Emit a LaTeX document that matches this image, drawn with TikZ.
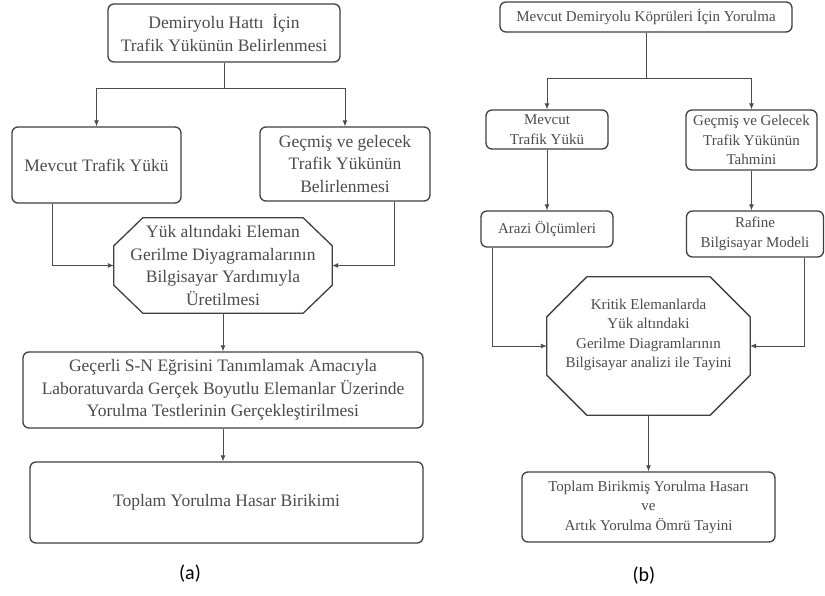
\documentclass[tikz,border=0pt]{standalone}
\usepackage{fontspec}
\setmainfont{Liberation Serif}
\newfontfamily\kutufont{Liberation Serif}
\newfontfamily\capfont{Carlito}
\usetikzlibrary{arrows.meta}

\begin{document}
\begin{tikzpicture}[x=1pt,y=-1pt,
  kutu/.style={draw=black!75,line width=1.3pt,rounded corners=6pt,align=center,text=black!70,inner sep=2pt},
  buyuk/.style={font=\kutufont\fontsize{17.5}{22.5}\selectfont},
  kucuk/.style={font=\kutufont\fontsize{15}{19.5}\selectfont},
  sekiz/.style={align=center,text=black!70,inner sep=0pt},
  cerceve/.style={draw=black!75,line width=1.3pt,line join=round},
  ok/.style={draw=black!70,line width=0.9pt,-{Latex[length=6pt,width=5pt]}},
  altyazi/.style={font=\capfont\fontsize{20}{24}\selectfont}]
\fill[white] (0,0) rectangle (825,595);

% (a)
\node[kutu,buyuk,minimum width=232pt,minimum height=58pt] (a1) at (224,33) {Demiryolu Hattı~~İçin\\Trafik Yükünün Belirlenmesi};
\node[kutu,buyuk,minimum width=169pt,minimum height=76pt] (a2) at (96.5,165) {Mevcut Trafik Yükü};
\node[kutu,buyuk,minimum width=170pt,minimum height=74pt] (a3) at (345,164) {Geçmiş ve gelecek\\Trafik Yükünün\\Belirlenmesi};
\node[sekiz,buyuk,minimum width=218pt,minimum height=95pt] (a4) at (223,265.5) {Yük altındaki Eleman\\Gerilme Diyagramalarının\\Bilgisayar Yardımıyla\\Üretilmesi};
\draw[cerceve] ([xshift=29pt]a4.north west) -- ([xshift=-29pt]a4.north east) -- ([yshift=-28pt]a4.north east)
  -- ([yshift=28pt]a4.south east) -- ([xshift=-29pt]a4.south east) -- ([xshift=29pt]a4.south west)
  -- ([yshift=28pt]a4.south west) -- ([yshift=-28pt]a4.north west) -- cycle;
\node[kutu,buyuk,minimum width=400pt,minimum height=76pt] (a5) at (223,390) {Geçerli S-N Eğrisini Tanımlamak Amacıyla\\Laboratuvarda Gerçek Boyutlu Elemanlar Üzerinde\\Yorulma Testlerinin Gerçekleştirilmesi};
\node[kutu,buyuk,minimum width=393pt,minimum height=81pt] (a6) at (226.5,502.5) {Toplam Yorulma Hasar Birikimi};
\node[altyazi] (ca) at (190,574) {(a)};

\draw[ok] (a1.south) -- ++(0,26) -| (a2.north);
\draw[ok] (a1.south) -- ++(0,26) -| (a3.north);
\draw[ok] ([xshift=41pt]a2.south west) |- (a4.west);
\draw[ok] ([xshift=-36pt]a3.south east) |- (a4.east);
\draw[ok] (a4.south) -- (a5.north);
\draw[ok] (a5.south) -- (a5.south |- a6.north);

% (b)
\node[kutu,kucuk,minimum width=292pt,minimum height=30pt] (b1) at (646,17) {Mevcut Demiryolu Köprüleri İçin Yorulma};
\node[kutu,kucuk,minimum width=122pt,minimum height=39pt] (b2) at (547,129.5) {Mevcut\\Trafik Yükü};
\node[kutu,kucuk,minimum width=131pt,minimum height=60pt] (b3) at (751.5,140) {Geçmiş ve Gelecek\\Trafik Yükünün\\Tahmini};
\node[kutu,kucuk,minimum width=132pt,minimum height=36pt] (b4) at (547,229) {Arazi Ölçümleri};
\node[kutu,kucuk,minimum width=137pt,minimum height=46pt] (b5) at (755,234) {Rafine\\Bilgisayar Modeli};
\node[sekiz,kucuk,minimum width=203pt,minimum height=138pt] (b6) at (648.5,346) {Kritik Elemanlarda\\Yük altındaki\\Gerilme Diagramlarının\\Bilgisayar analizi ile Tayini\\[6pt]};
\draw[cerceve] ([xshift=40pt]b6.north west) -- ([xshift=-40pt]b6.north east) -- ([yshift=-40pt]b6.north east)
  -- ([yshift=40pt]b6.south east) -- ([xshift=-40pt]b6.south east) -- ([xshift=40pt]b6.south west)
  -- ([yshift=40pt]b6.south west) -- ([yshift=-40pt]b6.north west) -- cycle;
\node[kutu,kucuk,minimum width=253pt,minimum height=70pt] (b7) at (648.5,507) {Toplam Birikmiş Yorulma Hasarı\\ve\\Artık Yorulma Ömrü Tayini};
\node[altyazi] (cb) at (644,576) {(b)};

\draw[ok] (b1.south) -- ++(0,46) -| (b2.north);
\draw[ok] (b1.south) -- ++(0,46) -| (b3.north);
\draw[ok] (b2.south) -- (b4.north);
\draw[ok] (b3.south) -- (b3.south |- b5.north);
\draw[ok] ([xshift=12pt]b4.south west) |- (b6.west);
\draw[ok] ([xshift=-20pt]b5.south east) |- (b6.east);
\draw[ok] (b6.south) -- (b6.south |- b7.north);
\end{tikzpicture}
\end{document}
